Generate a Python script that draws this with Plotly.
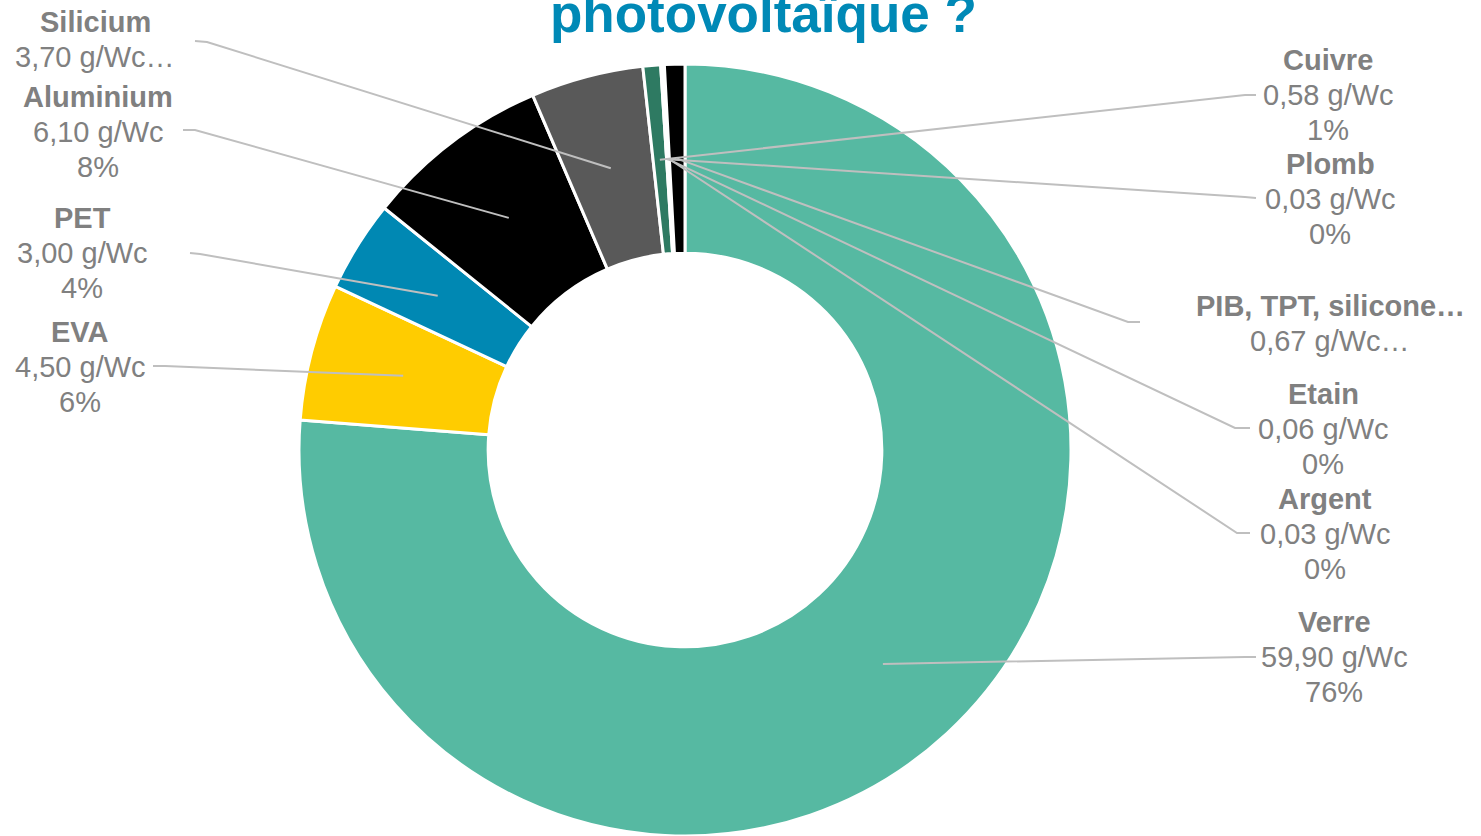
import numpy as np
import plotly.graph_objects as go

# ---- data ----
categories = ["Verre", "EVA", "PET", "Aluminium", "Silicium", "Cuivre", "Plomb", "Etain", "Argent", "PIB, TPT, silicone…"]
values = [59.90, 4.50, 3.00, 6.10, 3.70, 0.58, 0.03, 0.06, 0.03, 0.67]
truncated = [False, False, False, False, True, False, False, False, False, True]
colors = ["#56B9A2", "#FFCC00", "#0088B3", "#000000", "#595959", "#2E7A62", "#FFFFFF", "#FFFFFF", "#FFFFFF", "#000000"]

W, H = 1481, 836
cx, cy, R = 685, 450, 386
hole = 0.51

# label layout (pixel positions): center x, first line center y, elbow point, line end point
label_pos = {
    "Verre": (1334, 622, (1245, 657), (1256, 657)),
    "EVA": (80, 332, (165, 366), (153, 366)),
    "PET": (82, 218, (200, 254), (190, 253)),
    "Aluminium": (98, 97, (195, 130), (183, 130)),
    "Silicium": (95, 22, (207, 42), (195, 41)),
    "Cuivre": (1328, 60, (1245, 95), (1256, 95)),
    "Plomb": (1330, 164, (1245, 197), (1256, 198)),
    "Etain": (1323, 394, (1235, 428), (1250, 428)),
    "Argent": (1325, 499, (1237, 533), (1250, 533)),
    "PIB, TPT, silicone…": (1330, 306, (1128, 322), (1140, 322)),
}

def px(x):
    return x / W

def py(y):
    return 1 - y / H

fig = go.Figure(go.Pie(
    labels=categories, values=values, hole=hole, sort=False, direction="clockwise",
    rotation=0, marker=dict(colors=colors, line=dict(color="white", width=3)),
    textinfo="none", hoverinfo="label+value+percent", showlegend=False,
    domain=dict(x=[(cx - R) / W, (cx + R) / W], y=[py(cy + R), py(cy - R)]),
))

vals = np.array(values)
frac = vals / vals.sum()
cum = np.concatenate([[0], np.cumsum(frac)])
rm = R * (1 + hole) / 2

shapes = []
annotations = []
gray = "#808080"
for i, name in enumerate(categories):
    m = (cum[i] + cum[i + 1]) / 2
    th = 2 * np.pi * m
    ax = cx + rm * np.sin(th)
    ay = cy - rm * np.cos(th)
    lx, ly, elbow, end = label_pos[name]
    path = f"M {px(ax)} {py(ay)} L {px(elbow[0])} {py(elbow[1])} L {px(end[0])} {py(end[1])}"
    shapes.append(dict(type="path", path=path, xref="paper", yref="paper",
                       line=dict(color="#BFBFBF", width=2)))
    val_txt = f"{values[i]:.2f}".replace(".", ",") + " g/Wc"
    pct_txt = f"{round(frac[i] * 100):.0f}%"
    if truncated[i]:
        lines = [(f"<b>{name}</b>"), val_txt + "…"]
    else:
        lines = [f"<b>{name}</b>", val_txt, pct_txt]
    for k, t in enumerate(lines):
        annotations.append(dict(text=t, x=px(lx), y=py(ly + 35 * k), xref="paper", yref="paper",
                                xanchor="center", yanchor="middle", showarrow=False,
                                font=dict(family="Liberation Sans, Arial", size=29, color=gray)))

annotations.append(dict(text="<b>photovoltaïque ?</b>", x=px(763), y=py(13), xref="paper", yref="paper",
                        xanchor="center", yanchor="middle", showarrow=False,
                        font=dict(family="Liberation Sans, Arial", size=53, color="#0089B6")))

fig.update_layout(width=W, height=H, margin=dict(l=0, r=0, t=0, b=0),
                  paper_bgcolor="white", plot_bgcolor="white",
                  shapes=shapes, annotations=annotations)

fig.write_html("out.html", config={"displayModeBar": False},
               post_script="document.body.style.margin='0';document.body.style.overflow='hidden';")
